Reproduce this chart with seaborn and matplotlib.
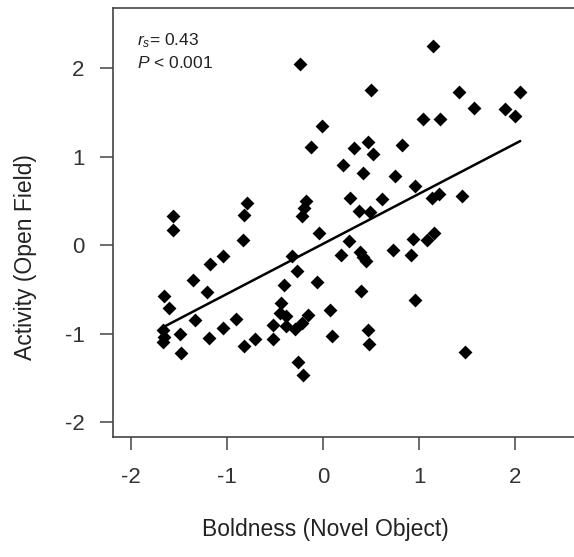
import matplotlib
matplotlib.use("Agg")
import matplotlib.pyplot as plt
import seaborn as sns
import pandas as pd

# Standardised behaviour scores, one entry per individual
boldness = [
    -1.56, -1.56, -0.79, -0.82, -0.83, -1.04, -1.18, -1.35, -1.21, -1.65,
    -1.60, -1.33, -1.66, -1.65, -1.66, -1.49, -1.48, -1.19, -1.04, -0.90,
    -0.82, -0.71,
    -0.24, 0.50, -0.01, -0.12, 0.32, 0.47, 0.52, 0.21, 0.42, 0.75,
    0.82, -0.18, -0.20, -0.22, 0.28, 0.61, 0.37, 0.49, -0.04, 0.27,
    0.73, 0.19, 0.38, 0.42, 0.45, -0.32, -0.27, -0.41, -0.06, 0.39,
    -0.44, -0.45, -0.39, -0.16, -0.52, -0.38, -0.29, -0.22, -0.52, 0.07,
    0.09, 0.47, 0.48, -0.26, -0.21,
    1.14, 1.41, 2.05, 1.57, 1.89, 2.00, 1.04, 1.22, 0.96, 1.13,
    1.21, 1.44, 0.94, 1.08, 1.15, 0.91, 0.96, 1.48,
]
activity = [
    0.33, 0.17, 0.47, 0.34, 0.06, -0.12, -0.21, -0.40, -0.53, -0.58,
    -0.71, -0.85, -0.96, -1.04, -1.10, -1.01, -1.22, -1.05, -0.94, -0.84,
    -1.14, -1.06,
    2.05, 1.75, 1.34, 1.11, 1.10, 1.16, 1.03, 0.91, 0.81, 0.78,
    1.13, 0.50, 0.42, 0.33, 0.53, 0.52, 0.38, 0.37, 0.14, 0.05,
    -0.06, -0.11, -0.08, -0.13, -0.18, -0.12, -0.29, -0.45, -0.42, -0.52,
    -0.66, -0.77, -0.80, -0.79, -0.90, -0.91, -0.95, -0.88, -1.06, -0.73,
    -1.03, -0.96, -1.12, -1.32, -1.47,
    2.25, 1.73, 1.73, 1.55, 1.54, 1.46, 1.42, 1.42, 0.67, 0.53,
    0.58, 0.55, 0.07, 0.06, 0.14, -0.11, -0.62, -1.21,
]
tick_values = [-2, -1, 0, 1, 2]
stats_text = ["$r_s$= 0.43", "$P$ < 0.001"]
x_title = "Boldness (Novel Object)"
y_title = "Activity (Open Field)"

sns.set_style("ticks")
plt.rcParams["font.family"] = ["Liberation Sans", "DejaVu Sans"]
plt.rcParams["mathtext.fontset"] = "custom"
plt.rcParams["mathtext.rm"] = "Liberation Sans"
plt.rcParams["mathtext.it"] = "Liberation Sans:italic"

df = pd.DataFrame({"boldness": boldness, "activity": activity})

fig = plt.figure(figsize=(5.74, 5.57), dpi=100)
ax = fig.add_axes([0.1969, 0.2154, 0.8031, 0.7702])

sns.regplot(
    data=df, x="boldness", y="activity", ax=ax, ci=None, truncate=True,
    marker="D", color="black",
    scatter_kws=dict(s=50, linewidths=0, alpha=1),
    line_kws=dict(color="black", lw=1.8),
)

ax.set_xlim(-2.183, 2.609)
ax.set_ylim(-2.169, 2.678)
ax.set_xticks(tick_values)
ax.set_yticks(tick_values)
ax.set_xticklabels([str(v) for v in tick_values])
ax.set_yticklabels([str(v) for v in tick_values])

frame = "#444444"
for side in ("left", "top", "bottom"):
    ax.spines[side].set_color(frame)
    ax.spines[side].set_linewidth(1.2)
ax.spines["right"].set_visible(False)

ax.tick_params(axis="both", length=9.5, width=1.1, color=frame,
               labelsize=16, labelcolor="#333333")
ax.tick_params(axis="x", pad=12)
ax.tick_params(axis="y", pad=11)

ax.set_xlabel(x_title, fontsize=16.5, color="#222222")
ax.set_ylabel(y_title, fontsize=16.5, color="#222222")
ax.xaxis.set_label_coords((325 - 113) / 461, -0.188)
ax.yaxis.set_label_coords(-0.165, 0.42)

ax.text(0.052, 0.925, stats_text[0], transform=ax.transAxes, fontsize=12.5,
        color="#222222", va="center", ha="left")
ax.text(0.052, 0.872, stats_text[1], transform=ax.transAxes, fontsize=12.5,
        color="#222222", va="center", ha="left")

fig.savefig("out.png", dpi=100)
